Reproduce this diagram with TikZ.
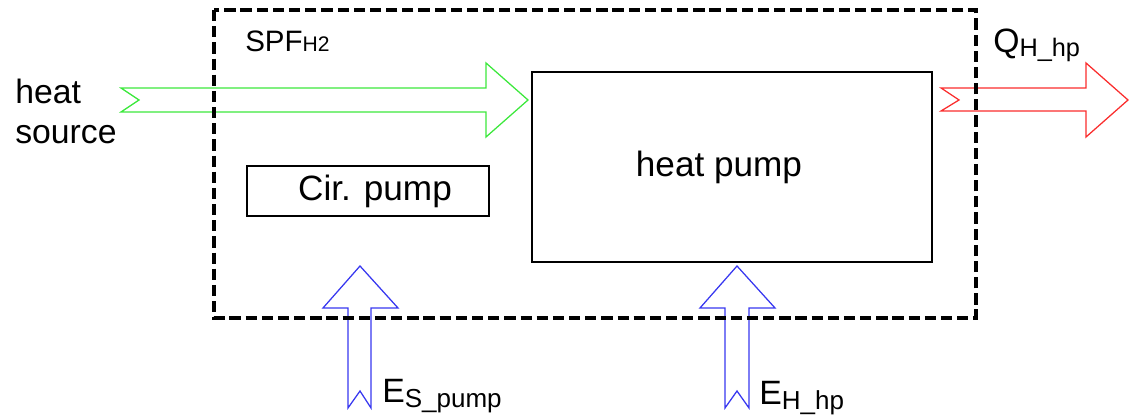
\documentclass[tikz,border=0pt]{standalone}
\usepackage{fontspec}
\setmainfont{Liberation Sans}
\usetikzlibrary{positioning}
\definecolor{srcgreen}{RGB}{60,232,60}
\definecolor{outred}{RGB}{250,45,45}
\definecolor{elecblue}{RGB}{55,55,240}
\newcommand{\lowsub}[3]{\raisebox{-#1}{\fontsize{#2}{#2}\selectfont #3}}

\begin{document}
\begin{tikzpicture}[
    x=0.025cm, y=-0.025cm,
    unit/.style={draw,line width=0.8pt,inner sep=0pt,align=center,
                 font=\fontsize{25}{30}\selectfont},
    label/.style={inner sep=0pt,anchor=base west,font=\fontsize{24}{28}\selectfont},
    flow/.style={line width=0.9pt,line join=miter},
    boundary/.style={line width=2.6pt,dash pattern=on 8pt off 3.5pt}
]
  \useasboundingbox (0,0) rectangle (1132,418);

  % Units
  \node[unit,minimum width=10cm,minimum height=4.75cm] (hp) at (732,167)
    {heat pump\hspace*{0.65cm}};
  \node[unit,minimum width=6.05cm,minimum height=1.25cm] (circ) at (368,191)
    {\hspace*{0.35cm}Cir. pump};

  % Energy flows
  \draw[flow,srcgreen] (121,88) -- (486,88) -- (486,63) -- (528,100) -- (486,137)
    -- (486,112) -- (121,112) -- (139,100) -- cycle;
  \draw[flow,outred] (941,88) -- (1086,88) -- (1086,63) -- (1128,100) -- (1086,137)
    -- (1086,111) -- (941,111) -- (959,100) -- cycle;
  \draw[flow,elecblue] (348,408) -- (348,308) -- (323,308) -- (360,266) -- (398,308)
    -- (371,308) -- (371,408) -- (360,391) -- cycle;
  \draw[flow,elecblue] (725,408) -- (725,308) -- (700,308) -- (737,266) -- (775,308)
    -- (749,308) -- (749,408) -- (737,391) -- cycle;

  % System boundary
  \draw[boundary] (214,10) rectangle (976,318);
  \node[label,font=\fontsize{21}{25}\selectfont] (spf) at (245,52)
    {SPF\lowsub{0pt}{15}{H2}};

  % Labels
  \node[inner sep=0pt,anchor=north west,align=left,
        font=\fontsize{24}{28.4}\selectfont] (src) at (15,79) {heat\\source};
  \node[label] (qhp) at (993,53) {Q\lowsub{2.5pt}{18}{H\_hp}};
  \node[label] (espump) at (382,403) {E\lowsub{3.5pt}{18.5}{S\_pump}};
  \node[label] (ehp) at (759,405) {E\lowsub{3.5pt}{18.5}{H\_hp}};
\end{tikzpicture}
\end{document}
